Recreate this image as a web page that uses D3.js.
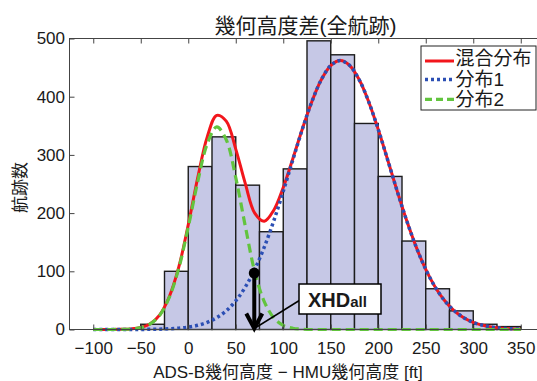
<!DOCTYPE html>
<html>
<head>
<meta charset="utf-8">
<script src="https://cdn.jsdelivr.net/npm/d3@7"></script>
<style>
  body { margin: 0; background: #fff; }
  text { font-family: "Liberation Sans", Arial, "Noto Sans CJK JP", sans-serif; fill: #1a1a1a; }
</style>
</head>
<body>
<div id="chart"></div>
<script>
// histogram: left edge of each 25 ft bin and count
const binStarts = [-50, -25, 0, 25, 50, 75, 100, 125, 150, 175, 200, 225, 250, 275, 300, 325];
const counts    = [9, 100, 280, 331, 248, 168, 276, 496, 472, 354, 263, 152, 70, 32, 9, 5];
const binWidth = 25;

// fitted curves
const curveX = [-100, -90, -80, -70, -60, -50, -40, -30, -20, -10, 0, 10, 20, 30, 40, 50, 60, 70, 80, 90,
  100, 110, 120, 130, 140, 150, 160, 170, 180, 190, 200, 210, 220, 230, 240, 250, 260, 270, 280, 290,
  300, 310, 320, 330, 340, 350];
const dist1 = [0, 0, 0, 0, 0, 0.1, 0.3, 0.6, 1.2, 2.2, 4.1, 7.2, 12.3, 20.3, 32.2, 49.3, 72.7, 103.3, 141.5, 186.7,
  237.4, 291, 343.7, 391, 429, 453.5, 462, 453.5, 429, 391, 343.7, 291, 237.4, 186.7, 141.5, 103.3, 72.7, 49.3, 32.2, 20.3,
  12.3, 7.2, 4.1, 2.2, 1.2, 0.6];
const dist2 = [0, 0, 0, 0.3, 1, 3.3, 9.6, 24.6, 55, 105, 176, 254, 319, 348, 326, 261, 178, 99, 48, 20,
  7, 2.2, 0.6, 0, 0, 0, 0, 0, 0, 0, 0, 0, 0, 0, 0, 0, 0, 0, 0, 0,
  0, 0, 0, 0, 0, 0];
const mixture = [0, 0, 0, 0.3, 1, 3.4, 9.9, 25.2, 56.2, 107, 180, 261, 331, 368, 358, 310, 251, 200, 186, 205,
  244, 293, 344, 391, 429, 453.5, 462, 453.5, 429, 391, 343.7, 291, 237.4, 186.7, 141.5, 103.3, 72.7, 49.3, 32.2, 20.3,
  12.3, 7.2, 4.1, 2.2, 1.2, 0.6];

const xTicks = [-100, -50, 0, 50, 100, 150, 200, 250, 300, 350];
const yTicks = [0, 100, 200, 300, 400, 500];
const legendNames = ["混合分布", "分布1", "分布2"];

// XHDall crossing point (ft, count)
const xhdValue = 69.5;
const xhdCount = 97;

const width = 537, height = 381;

const svg = d3.select("#chart").append("svg")
    .attr("width", width)
    .attr("height", height);

svg.append("rect")
    .attr("width", width)
    .attr("height", height)
    .attr("fill", "#fff");

const x = d3.scaleLinear().domain([-125, 375]).range([69.5, 544.5]);
const y = d3.scaleLinear().domain([0, 500]).range([329.5, 38.5]);

// bars
svg.selectAll(".bar")
    .data(binStarts)
    .enter().append("rect")
    .attr("class", "bar")
    .attr("x", d => x(d))
    .attr("y", (d, i) => y(counts[i]))
    .attr("width", d => x(d + binWidth) - x(d))
    .attr("height", (d, i) => y(0) - y(counts[i]))
    .attr("fill", "#c6c8e6")
    .attr("stroke", "#1c1c1c")
    .attr("stroke-width", 1.4);

const line = series => d3.line()
    .x((d, i) => x(curveX[i]))
    .y(d => y(d))
    .curve(d3.curveCatmullRom)(series);

svg.append("path")
    .attr("d", line(mixture))
    .attr("fill", "none")
    .attr("stroke", "#f2161c")
    .attr("stroke-width", 3);

svg.append("path")
    .attr("d", line(dist1))
    .attr("fill", "none")
    .attr("stroke", "#2c4fb4")
    .attr("stroke-width", 3.5)
    .attr("stroke-dasharray", "3,3");

svg.append("path")
    .attr("d", line(dist2))
    .attr("fill", "none")
    .attr("stroke", "#62c43e")
    .attr("stroke-width", 3.2)
    .attr("stroke-dasharray", "9,5");

// axes box with inward ticks
const xAxis = d3.axisBottom(x).tickValues(xTicks).tickSize(-5).tickPadding(12.5);
const yAxis = d3.axisLeft(y).tickValues(yTicks).tickSize(-5).tickPadding(4.5);

const gx = svg.append("g")
    .attr("transform", "translate(0," + y(0) + ")")
    .call(xAxis);
const gy = svg.append("g")
    .attr("transform", "translate(" + x(-125) + ",0)")
    .call(yAxis);
const gxTop = svg.append("g")
    .attr("transform", "translate(0," + y(500) + ")")
    .call(d3.axisTop(x).tickValues(xTicks).tickSize(-5).tickFormat(""));
const gyRight = svg.append("g")
    .attr("transform", "translate(" + x(375) + ",0)")
    .call(d3.axisRight(y).tickValues(yTicks).tickSize(-5).tickFormat(""));

[gx, gy, gxTop, gyRight].forEach(g => {
    g.select(".domain").remove();
    g.selectAll("line").attr("stroke", "#444");
    g.selectAll("text")
        .attr("font-size", 17)
        .attr("fill", "#1a1a1a")
        .style("font-family", '"Liberation Sans", Arial, sans-serif');
});

svg.append("rect")
    .attr("x", x(-125))
    .attr("y", y(500))
    .attr("width", x(375) - x(-125))
    .attr("height", y(0) - y(500))
    .attr("fill", "none")
    .attr("stroke", "#444")
    .attr("stroke-width", 1);

// XHDall marker
svg.append("line")
    .attr("x1", x(xhdValue)).attr("y1", y(xhdCount))
    .attr("x2", x(xhdValue)).attr("y2", y(0) - 2)
    .attr("stroke", "#000")
    .attr("stroke-width", 4);
svg.append("path")
    .attr("d", "M" + (x(xhdValue) - 8) + "," + (y(0) - 16) +
               "L" + x(xhdValue) + "," + (y(0) - 1) +
               "L" + (x(xhdValue) + 8) + "," + (y(0) - 16))
    .attr("fill", "none")
    .attr("stroke", "#000")
    .attr("stroke-width", 4);
svg.append("circle")
    .attr("cx", x(xhdValue))
    .attr("cy", y(xhdCount))
    .attr("r", 5.5)
    .attr("fill", "#000");

svg.append("line")
    .attr("x1", x(xhdValue)).attr("y1", y(0) - 1)
    .attr("x2", x(xhdValue) + 45).attr("y2", y(0) - 29)
    .attr("stroke", "#000")
    .attr("stroke-width", 1.5);

svg.append("rect")
    .attr("x", 299).attr("y", 284)
    .attr("width", 82).attr("height", 30)
    .attr("fill", "#fff")
    .attr("stroke", "#000")
    .attr("stroke-width", 1.5);

const xhdText = svg.append("text")
    .attr("x", 308)
    .attr("y", 306.5)
    .attr("font-weight", "bold");
xhdText.append("tspan").attr("font-size", 20).text("XHD");
xhdText.append("tspan").attr("font-size", 15).text("all");

// legend
svg.append("rect")
    .attr("x", 421).attr("y", 46)
    .attr("width", 115).attr("height", 64)
    .attr("fill", "#fff")
    .attr("stroke", "#222")
    .attr("stroke-width", 1);

const legendRows = [
  { color: "#f2161c", dash: null, w: 3, ly: 61, ty: 58.5 },
  { color: "#2c4fb4", dash: "3,3", w: 3.5, ly: 79.5, ty: 79 },
  { color: "#62c43e", dash: "7,4", w: 3.2, ly: 99.3, ty: 99.3 }
];

legendRows.forEach((r, i) => {
    svg.append("line")
        .attr("x1", 425).attr("x2", 454)
        .attr("y1", r.ly).attr("y2", r.ly)
        .attr("stroke", r.color)
        .attr("stroke-width", r.w)
        .attr("stroke-dasharray", r.dash);
    svg.append("text")
        .attr("x", 455.5)
        .attr("y", r.ty)
        .attr("dy", "0.36em")
        .attr("font-size", 19)
        .text(legendNames[i]);
});

// titles
svg.append("text")
    .attr("x", 305.5)
    .attr("y", 32.5)
    .attr("text-anchor", "middle")
    .attr("font-size", 21)
    .text("幾何高度差(全航跡)");

svg.append("text")
    .attr("transform", "translate(26,187.5) rotate(-90)")
    .attr("text-anchor", "middle")
    .attr("font-size", 17)
    .text("航跡数");

svg.append("text")
    .attr("x", 288)
    .attr("y", 378)
    .attr("text-anchor", "middle")
    .attr("font-size", 17)
    .text("ADS-B幾何高度 − HMU幾何高度 [ft]");
</script>
</body>
</html>
